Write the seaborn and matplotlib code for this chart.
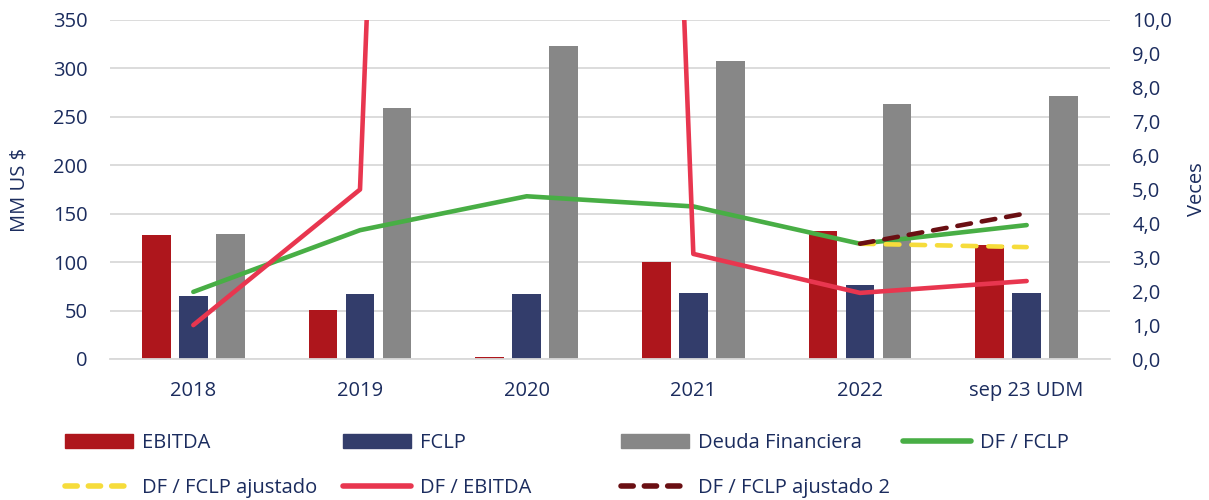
import numpy as np
import pandas as pd
import matplotlib
matplotlib.use("Agg")
import matplotlib.pyplot as plt
import seaborn as sns
from matplotlib.patches import Patch
from matplotlib.lines import Line2D
from matplotlib.ticker import FuncFormatter

# datos
periodos = ["2018", "2019", "2020", "2021", "2022", "sep 23 UDM"]
ebitda = [128, 51, 2.5, 100, 132, 118]
fclp = [65, 67, 67, 68, 76, 68]
deuda = [129, 259, 323, 308, 263, 272]
df_fclp = [1.98, 3.8, 4.8, 4.5, 3.4, 3.95]
df_ebitda = [1.0, 5.0, 130, 3.1, 1.95, 2.3]
periodos_ajuste = ["2022", "sep 23 UDM"]
df_fclp_aj = [3.4, 3.3]
df_fclp_aj2 = [3.4, 4.3]

series_barras = ["EBITDA", "FCLP", "Deuda Financiera"]
colores_barras = ["#AE161C", "#333D6B", "#878787"]
verde = "#48AE45"
amarillo = "#F6DC3B"
rojo = "#E8364F"
granate = "#6A0F13"
azul_texto = "#1B2C5E"
gris_grilla = "#D9D9D9"
fs = 14.5

sns.set_theme(style="white")
plt.rcParams["font.family"] = ["Open Sans", "DejaVu Sans"]

barras = pd.DataFrame({
    "periodo": periodos * 3,
    "serie": [s for s in series_barras for _ in periodos],
    "valor": ebitda + fclp + deuda,
})

fig = plt.figure(figsize=(12.09, 5.0), dpi=100)
ax = fig.add_axes([110 / 1209, 1 - 359 / 500, 1000 / 1209, 339 / 500])

sns.barplot(data=barras, x="periodo", y="valor", hue="serie", order=periodos,
            hue_order=series_barras, palette=colores_barras, saturation=1,
            width=0.666, gap=0.22, linewidth=0, legend=False, ax=ax)

ax.set_ylim(0, 350)
ax.set_yticks(np.arange(0, 351, 50))
ax.set_xlim(-0.5, len(periodos) - 0.5)
ax.grid(axis="y", color=gris_grilla, linewidth=1.3)
ax.set_axisbelow(True)
for s in ["top", "right", "left"]:
    ax.spines[s].set_visible(False)
ax.spines["bottom"].set_color(gris_grilla)
ax.spines["bottom"].set_linewidth(1.3)
ax.tick_params(axis="both", length=0, labelsize=fs, labelcolor=azul_texto)
ax.tick_params(axis="x", pad=15.5)
ax.tick_params(axis="y", pad=16)
ax.set_xlabel("")
ax.set_ylabel("MM US $", fontsize=fs, color=azul_texto)
ax.yaxis.set_label_coords(-0.08, 0.5)

# eje derecho con los ratios
ax2 = ax.twinx()
pos = np.arange(len(periodos))
pos_aj = np.array([periodos.index(p) for p in periodos_ajuste])

sns.lineplot(x=pos, y=df_fclp, color=verde, linewidth=3.3, errorbar=None,
             solid_capstyle="round", solid_joinstyle="round", ax=ax2)
sns.lineplot(x=pos, y=df_ebitda, color=rojo, linewidth=3.3, errorbar=None,
             solid_capstyle="round", solid_joinstyle="round", ax=ax2)
ax2.plot(pos_aj, df_fclp_aj, color=amarillo, linewidth=3.3,
         dashes=(3.0, 2.6), dash_capstyle="round")
ax2.plot(pos_aj, df_fclp_aj2, color=granate, linewidth=3.3,
         dashes=(3.0, 2.4), dash_capstyle="round")

ax2.set_ylim(0, 10)
ax2.set_yticks(np.arange(0, 11, 1))
ax2.yaxis.set_major_formatter(FuncFormatter(lambda v, p: f"{v:.1f}".replace(".", ",")))
for s in ["top", "right", "left", "bottom"]:
    ax2.spines[s].set_visible(False)
ax2.tick_params(axis="y", length=0, labelsize=fs, labelcolor=azul_texto, pad=16)
ax2.grid(False)
ax2.set_ylabel("Veces", fontsize=fs, color=azul_texto)
ax2.yaxis.set_label_coords(1.077, 0.5)

# leyenda en cuatro columnas fijas
def mk_line(color, dashed=False):
    if dashed:
        return Line2D([], [], color=color, linewidth=4, dashes=(2.2, 2.0),
                      dash_capstyle="round")
    return Line2D([], [], color=color, linewidth=4, solid_capstyle="round")

columnas = [
    (65, [Patch(color=colores_barras[0]), mk_line(amarillo, True)],
     ["EBITDA", "DF / FCLP ajustado"]),
    (343, [Patch(color=colores_barras[1]), mk_line(rojo)],
     ["FCLP", "DF / EBITDA"]),
    (621, [Patch(color=colores_barras[2]), mk_line(granate, True)],
     ["Deuda Financiera", "DF / FCLP ajustado 2"]),
    (903, [mk_line(verde)], ["DF / FCLP"]),
]
for x0, handles, labels in columnas:
    leg = fig.legend(handles, labels, loc="upper left",
                     bbox_to_anchor=(x0 / 1209, 1 - 433 / 500),
                     frameon=False, fontsize=fs, handlelength=3.4,
                     handleheight=0.65, handletextpad=0.4, labelspacing=1.25,
                     borderpad=0, borderaxespad=0)
    for t in leg.get_texts():
        t.set_color(azul_texto)

fig.savefig("out.png", dpi=100)
